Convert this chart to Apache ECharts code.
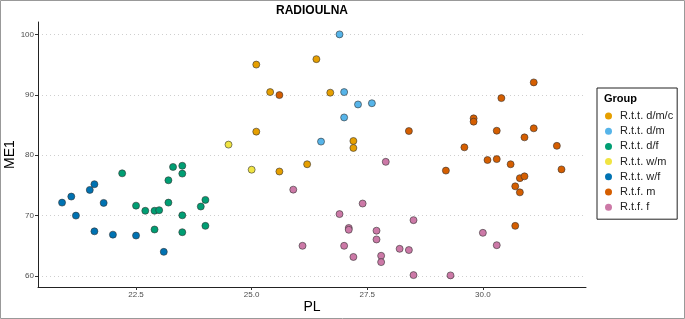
<!DOCTYPE html>
<html>
<head>
<meta charset="utf-8">
<script src="https://cdn.jsdelivr.net/npm/echarts@6/dist/echarts.min.js"></script>
<style>
  body { margin: 0; background: #fff; }
  #chart { width: 685px; height: 319px; }
</style>
</head>
<body>
<div id="chart"></div>
<script>
// groupes (ordre de la légende)
const groups = ['R.t.t. d/m/c', 'R.t.t. d/m', 'R.t.t. d/f', 'R.t.t. w/m', 'R.t.t. w/f', 'R.t.f. m', 'R.t.f. f'];
const colors = ['#E69F00', '#56B4E9', '#009E73', '#F0E442', '#0072B2', '#D55E00', '#CC79A7'];

// [PL, ME1]
const dmc = [[25.1, 95.0], [25.4, 90.45], [25.1, 83.9], [25.6, 77.3], [26.2, 78.5], [26.4, 95.9], [26.7, 90.35], [27.2, 82.35], [27.2, 81.2]];
const dm = [[26.9, 100.0], [27.0, 90.45], [27.3, 88.4], [27.6, 88.6], [27.0, 86.25], [26.5, 82.25]];
const df = [[22.2, 77.0], [22.5, 71.65], [22.7, 70.8], [22.9, 70.8], [23.0, 70.9], [22.9, 67.7], [23.2, 72.15], [23.2, 75.85], [23.3, 78.05], [23.5, 78.25], [23.5, 76.95], [23.5, 70.05], [23.5, 67.25], [23.9, 71.5], [24.0, 72.6], [24.0, 68.3]];
const wm = [[24.5, 81.75], [25.0, 77.6]];
const wf = [[20.9, 72.15], [21.1, 73.15], [21.2, 70.0], [21.5, 74.25], [21.6, 75.2], [21.8, 72.1], [21.6, 67.4], [22.0, 66.85], [22.5, 66.7], [23.1, 64.0]];
const fm = [[25.6, 89.95], [28.4, 84.0], [29.2, 77.45], [29.6, 81.3], [29.8, 86.1], [29.8, 85.55], [30.1, 79.2], [30.3, 79.35], [30.3, 84.05], [30.4, 89.45], [30.6, 78.5], [30.7, 74.85], [30.8, 76.2], [30.9, 76.5], [30.8, 73.85], [30.9, 82.95], [31.1, 92.05], [31.1, 84.45], [30.7, 68.3], [31.6, 81.55], [31.7, 77.65]];
const ff = [[25.9, 74.3], [26.1, 65.0], [26.9, 70.25], [27.1, 67.95], [27.1, 67.65], [27.0, 65.0], [27.2, 63.15], [27.4, 72.0], [27.7, 67.5], [27.7, 66.05], [27.8, 63.35], [27.8, 62.3], [27.9, 78.9], [28.2, 64.5], [28.4, 64.3], [28.5, 69.25], [28.5, 60.15], [29.3, 60.1], [30.0, 67.15], [30.3, 65.1]];
const groupData = [dmc, dm, df, wm, wf, fm, ff];

const xTicks = [22.5, 25.0, 27.5, 30.0];
const yTicks = [60, 70, 80, 90, 100];

const chart = echarts.init(document.getElementById('chart'), null, { renderer: 'canvas' });
const font = '"Liberation Sans", Arial, sans-serif';

const option = {
  animation: false,
  textStyle: { fontFamily: font },
  grid: { left: 38, right: 99, top: 22, bottom: 32, containLabel: false, outerBoundsMode: 'none' },
  xAxis: {
    type: 'value',
    min: 20.38, max: 32.23,
    name: 'PL', nameLocation: 'middle', nameGap: 13, nameMoveOverlap: false,
    nameTextStyle: { fontSize: 14, color: '#000' },
    axisLine: { show: true, lineStyle: { color: '#222', width: 1 } },
    axisTick: { show: true, length: 3, customValues: xTicks, lineStyle: { color: '#333' } },
    axisLabel: { customValues: xTicks, fontSize: 8, color: '#4d4d4d', margin: 4, formatter: v => v.toFixed(1) },
    splitLine: { show: false }
  },
  yAxis: {
    type: 'value',
    min: 58.18, max: 102.05,
    name: 'ME1', nameLocation: 'middle', nameGap: 21, nameMoveOverlap: false,
    nameTextStyle: { fontSize: 14, color: '#000' },
    axisLine: { show: true, lineStyle: { color: '#222', width: 1 } },
    axisTick: { show: true, length: 3, customValues: yTicks, lineStyle: { color: '#333' } },
    axisLabel: { customValues: yTicks, fontSize: 8, color: '#4d4d4d', margin: 4 },
    splitLine: { show: true, lineStyle: { color: '#cfcfcf', type: [1, 3], width: 1 } }
  },
  legend: {
    orient: 'vertical',
    left: 597, top: 88,
    padding: [22, 4, 6, 8],
    borderColor: '#222', borderWidth: 1,
    icon: 'circle',
    itemWidth: 7, itemHeight: 7,
    itemGap: 3.2,
    itemStyle: { borderWidth: 0 },
    textStyle: { fontSize: 11, color: '#222', lineHeight: 12, padding: [0, 0, 0, 3] },
    data: groups
  },
  graphic: [
    { type: 'rect', shape: { x: 0.5, y: 0.5, width: 684, height: 318 }, style: { fill: 'none', stroke: '#999', lineWidth: 1 }, silent: true },
    { type: 'text', x: 312, y: 5, style: { text: 'RADIOULNA', font: 'bold 12px ' + font, fill: '#000', textAlign: 'center' } },
    { type: 'text', left: 604, top: 93, style: { text: 'Group', font: 'bold 11px ' + font, fill: '#000' } }
  ],
  series: groups.map((g, i) => ({
    name: g,
    type: 'scatter',
    symbol: 'circle',
    symbolSize: 7,
    data: groupData[i],
    itemStyle: { color: colors[i], borderColor: '#333', borderWidth: 0.6, opacity: 1 }
  }))
};

chart.setOption(option);
</script>
</body>
</html>
